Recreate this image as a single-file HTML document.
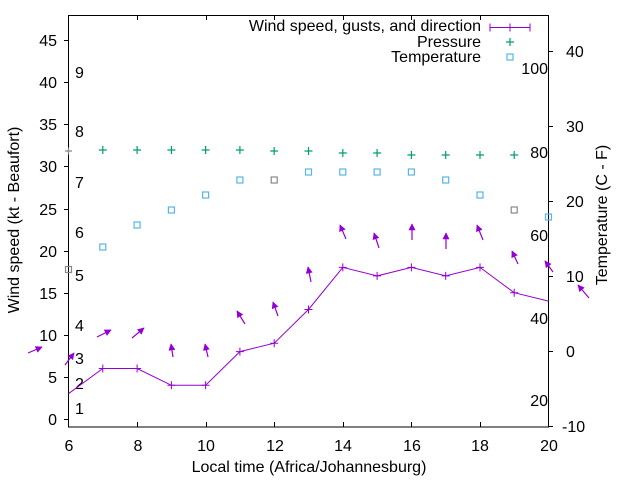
<!DOCTYPE html>
<html><head><meta charset="utf-8"><style>body{margin:0;background:#fff}svg{display:block}text{font-family:"Liberation Sans",sans-serif;font-size:16px;fill:#000}</style></head>
<body>
<svg width="640" height="480" viewBox="0 0 640 480" xmlns="http://www.w3.org/2000/svg">
<defs><marker id="ah" viewBox="0 0 10 10" refX="9" refY="5" markerWidth="7" markerHeight="7" markerUnits="userSpaceOnUse" orient="auto"><path d="M0,0 L10,5 L0,10 z" fill="#9400d3"/></marker></defs>
<g stroke="#000" stroke-width="1" fill="none">
<rect x="68.5" y="15.5" width="480" height="411.5"/>
<path d="M64 419.5H68.5M64 377.5H68.5M64 335.5H68.5M64 293.5H68.5M64 251.5H68.5M64 209.5H68.5M64 166.5H68.5M64 124.5H68.5M64 82.5H68.5M64 40.5H68.5"/>
<path d="M548.5 51.5H553M548.5 126.5H553M548.5 201.5H553M548.5 276.5H553M548.5 351.5H553M548.5 426.5H553"/>
<path d="M137.5 427V422M206.5 427V422M274.5 427V422M343.5 427V422M411.5 427V422M480.5 427V422M137.5 15V20M206.5 15V20M274.5 15V20M343.5 15V20M411.5 15V20M480.5 15V20"/>
</g>
<g text-anchor="end">
<text x="57" y="425">0</text><text x="57" y="383">5</text><text x="57" y="341">10</text><text x="57" y="299">15</text><text x="57" y="257">20</text><text x="57" y="215">25</text><text x="57" y="172">30</text><text x="57" y="130">35</text><text x="57" y="88">40</text><text x="57" y="46">45</text>
<text x="548" y="74">100</text><text x="548" y="158">80</text><text x="548" y="241">60</text><text x="548" y="324">40</text><text x="548" y="406">20</text>
<text x="481" y="31">Wind speed, gusts, and direction</text><text x="481" y="47">Pressure</text><text x="481" y="62">Temperature</text>
</g>
<g>
<text x="566" y="57">40</text><text x="566" y="132">30</text><text x="566" y="207">20</text><text x="566" y="282">10</text><text x="566" y="357">0</text><text x="562" y="432">-10</text>
</g>
<g text-anchor="middle">
<text x="69" y="451">6</text><text x="138" y="451">8</text><text x="206" y="451">10</text><text x="275" y="451">12</text><text x="343" y="451">14</text><text x="412" y="451">16</text><text x="480" y="451">18</text><text x="549" y="451">20</text>
<text x="309" y="472">Local time (Africa/Johannesburg)</text>
<text transform="translate(19,220) rotate(-90)">Wind speed (kt - Beaufort)</text>
<text transform="translate(607,215) rotate(-90)">Temperature (C - F)</text>
</g>
<g>
<text x="75" y="414">1</text><text x="75" y="389">2</text><text x="75" y="364">3</text><text x="75" y="331">4</text><text x="75" y="281">5</text><text x="75" y="238">6</text><text x="75" y="188">7</text><text x="75" y="137">8</text><text x="75" y="78">9</text>
</g>
<g stroke="#9400d3" stroke-width="1" fill="none">
<polyline points="68.5,393.7 102.8,368.5 137.1,368.5 171.4,385.3 205.6,385.3 239.9,351.6 274.2,343.2 308.5,309.5 342.8,267.4 377.1,275.9 411.4,267.4 445.7,275.9 480,267.4 514.2,292.7 548.5,301.1"/>
<path d="M102.8 364.5v8M137.1 364.5v8M171.4 381.3v8M205.6 381.3v8M239.9 347.6v8M274.2 339.2v8M308.5 305.5v8M342.8 263.4v8M377.1 271.9v8M411.4 263.4v8M445.7 271.9v8M480 263.4v8M514.2 288.7v8M98.8 368.5h8M133.1 368.5h8M167.4 385.3h8M201.6 385.3h8M235.9 351.6h8M270.2 343.2h8M304.5 309.5h8M338.8 267.4h8M373.1 275.9h8M407.4 267.4h8M441.7 275.9h8M476 267.4h8M510.2 292.7h8"/>
<path d="M490 27.5h40M490 23.5v8M530 23.5v8M510 23.5v8"/>
</g>
<g stroke="#9400d3" stroke-width="1.2" fill="none" marker-end="url(#ah)">
<line x1="28" y1="353" x2="42" y2="347"/><line x1="65" y1="365" x2="74" y2="353"/><line x1="97" y1="337" x2="111" y2="330"/><line x1="132" y1="338" x2="144" y2="328"/><line x1="173" y1="357" x2="171" y2="344"/><line x1="208" y1="357" x2="205" y2="344"/><line x1="245" y1="324" x2="237" y2="311"/><line x1="278" y1="316" x2="273" y2="302"/><line x1="311" y1="282" x2="308" y2="267"/><line x1="346" y1="239" x2="340" y2="225"/><line x1="379" y1="248" x2="374" y2="233"/><line x1="412" y1="240" x2="412" y2="224"/><line x1="446" y1="249" x2="446" y2="233"/><line x1="483" y1="240" x2="477" y2="225"/><line x1="518" y1="264" x2="512" y2="251"/><line x1="553" y1="272" x2="545" y2="261"/><line x1="589" y1="298" x2="578" y2="285"/>
</g>
<g stroke="#009e73" stroke-width="1.2" fill="none">
<path d="M98.8 150h8M102.8 146v8M133.1 150h8M137.1 146v8M167.4 150h8M171.4 146v8M201.6 150h8M205.6 146v8M235.9 150h8M239.9 146v8M270.2 151h8M274.2 147v8M304.5 151h8M308.5 147v8M338.8 153h8M342.8 149v8M373.1 153h8M377.1 149v8M407.4 155h8M411.4 151v8M441.7 155h8M445.7 151v8M476 155h8M480 151v8M510.2 155h8M514.2 151v8M506 42h8M510 38v8"/>
</g>
<g stroke="#888" stroke-width="1.2" fill="none"><path d="M65 151h7M68.5 147.5v7"/></g>
<g stroke="#56b4e9" stroke-width="1.2" fill="none">
<rect x="65.5" y="266.5" width="6" height="6" stroke="#888"/>
<rect x="99.8" y="244" width="6" height="6"/><rect x="134.1" y="222" width="6" height="6"/><rect x="168.4" y="207" width="6" height="6"/><rect x="202.6" y="192" width="6" height="6"/><rect x="236.9" y="177" width="6" height="6"/><rect x="271.2" y="177" width="6" height="6" stroke="#888"/><rect x="305.5" y="169" width="6" height="6"/><rect x="339.8" y="169" width="6" height="6"/><rect x="374.1" y="169" width="6" height="6"/><rect x="408.4" y="169" width="6" height="6"/><rect x="442.7" y="177" width="6" height="6"/><rect x="477" y="192" width="6" height="6"/><rect x="511.2" y="207" width="6" height="6" stroke="#888"/><rect x="545.5" y="214" width="6" height="6"/><rect x="507" y="54" width="6" height="6"/>
</g>
</svg>
</body></html>
